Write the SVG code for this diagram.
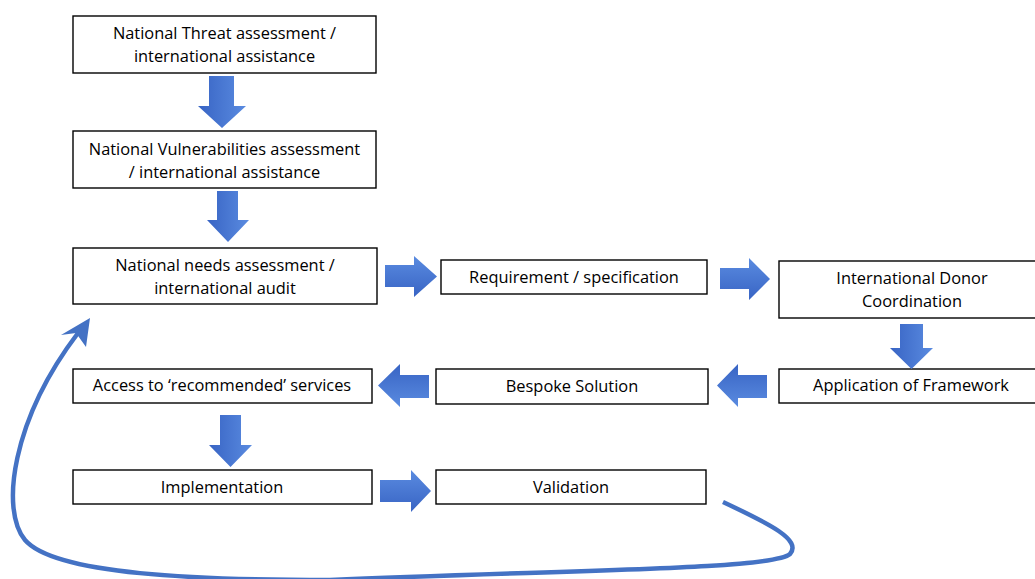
<svg xmlns="http://www.w3.org/2000/svg" width="1035" height="579" viewBox="0 0 1035 579">
<defs>
<style>
.box{fill:#fff;stroke:#000;stroke-width:1.4}
.t{font-family:"Open Sans","Liberation Sans",Arial,sans-serif;font-size:16.4px;fill:#000;text-anchor:middle}
</style>
<linearGradient id="gd" x1="0" y1="0" x2="1" y2="0"><stop offset="0" stop-color="#3864C4"/><stop offset="1" stop-color="#5A8BE0"/></linearGradient>
<linearGradient id="gr" x1="0" y1="0" x2="0" y2="1"><stop offset="0" stop-color="#5A8BE0"/><stop offset="1" stop-color="#3864C4"/></linearGradient>
<linearGradient id="gl" x1="0" y1="0" x2="0" y2="1"><stop offset="0" stop-color="#3864C4"/><stop offset="1" stop-color="#5A8BE0"/></linearGradient>
</defs>
<rect width="1035" height="579" fill="#fff"/>
<g id="n1"><rect class="box" x="73" y="16" width="303" height="57"/><text class="t" x="224.5" y="39">National Threat assessment /</text><text class="t" x="224.5" y="62">international assistance</text></g>
<g id="n2"><rect class="box" x="73" y="131" width="303" height="57"/><text class="t" x="224.5" y="155">National Vulnerabilities assessment</text><text class="t" x="224.5" y="178">/ international assistance</text></g>
<g id="n3"><rect class="box" x="73" y="248" width="304" height="56"/><text class="t" x="225" y="271">National needs assessment /</text><text class="t" x="225" y="294">international audit</text></g>
<g id="n4"><rect class="box" x="441" y="260" width="266" height="34"/><text class="t" x="574" y="283">Requirement / specification</text></g>
<g id="n5"><rect class="box" x="779" y="261" width="266" height="57"/><text class="t" x="912" y="284">International Donor</text><text class="t" x="912" y="307">Coordination</text></g>
<g id="n6"><rect class="box" x="779" y="369" width="266" height="34"/><text class="t" x="911" y="391">Application of Framework</text></g>
<g id="n7"><rect class="box" x="436" y="369" width="272" height="35"/><text class="t" x="572" y="392">Bespoke Solution</text></g>
<g id="n8"><rect class="box" x="73" y="369" width="299" height="34"/><text class="t" x="222" y="391">Access to ‘recommended’ services</text></g>
<g id="n9"><rect class="box" x="73" y="470" width="299" height="34"/><text class="t" x="222" y="493">Implementation</text></g>
<g id="n10"><rect class="box" x="436" y="470" width="270" height="34"/><text class="t" x="571" y="493">Validation</text></g>
<g id="connectors">
<polygon fill="url(#gd)" points="209,76 234,76 234,106 246,106 222,128 198,106 209,106"/>
<polygon fill="url(#gd)" points="217,191 238,191 238,220 249,220 228,242 207,220 217,220"/>
<polygon fill="url(#gr)" points="385,265 414,265 414,256 437,276.5 414,297 414,287 385,287"/>
<polygon fill="url(#gr)" points="720,268 749,268 749,258 770,279 749,300 749,289 720,289"/>
<polygon fill="url(#gd)" points="900,324 923,324 923,348 933,348 911.5,369 890,348 900,348"/>
<polygon fill="url(#gl)" points="767,375 738,375 738,364 717,385.5 738,407 738,398 767,398"/>
<polygon fill="url(#gl)" points="429,375 400,375 400,364 378,385.5 400,407 400,398 429,398"/>
<polygon fill="url(#gd)" points="220,415 241,415 241,445 252,445 230.5,467 209,445 220,445"/>
<polygon fill="url(#gr)" points="380,480 411,480 411,470 431,491 411,512 411,502 380,502"/>
<path d="M 723 502 C 770 524 802 540 790 554 C 772 570 560 570 330 580 C 200 580 55 575 25 540 C 0 510 12 420 78 333" fill="none" stroke="#4472C4" stroke-width="4.5"/>
<polygon fill="#4472C4" points="90,318 61,335 76,333 86,347"/>
</g>
</svg>
